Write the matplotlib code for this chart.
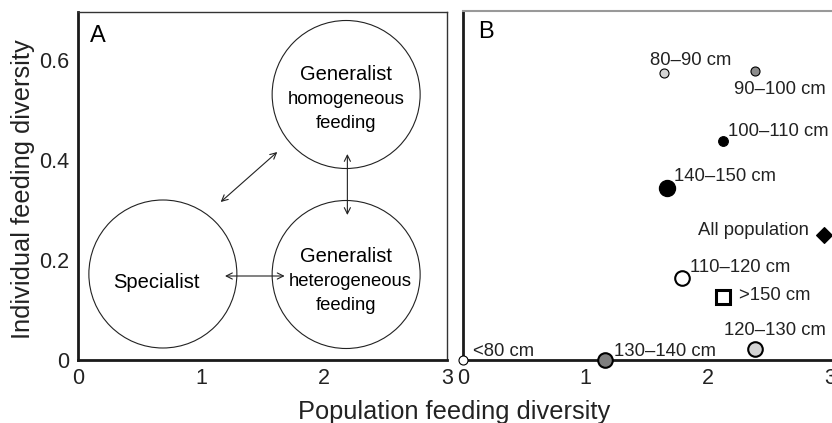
import matplotlib.pyplot as plt

plt.rcParams['font.family'] = ['Liberation Sans', 'DejaVu Sans']

# panel A: conceptual circles
circle_x = [0.69, 2.18, 2.18]
circle_y = [0.172, 0.531, 0.171]
arrows = [((1.16, 0.316), (1.62, 0.416)),
          ((2.19, 0.412), (2.19, 0.290)),
          ((1.195, 0.168), (1.68, 0.168))]

# panel B: size classes
classes = ['80–90 cm', '90–100 cm', '100–110 cm', '140–150 cm', 'All population',
           '110–120 cm', '>150 cm', '120–130 cm', '130–140 cm', '<80 cm']
pop_div = [1.64, 2.39, 2.13, 1.67, 2.95, 1.79, 2.13, 2.39, 1.16, 0.0]
ind_div = [0.572, 0.576, 0.436, 0.344, 0.25, 0.164, 0.126, 0.022, 0.0, 0.0]

xticks = [0, 1, 2, 3]
yticks = [0, 0.2, 0.4, 0.6]
ytick_labels = ['0', '0.2', '0.4', '0.6']

# marker styles for panel B (marker, size, face, edge width)
styles = [('o', 6.5, '#d4d4d4', 0.8), ('o', 6.5, '#8c8c8c', 0.8), ('o', 7, 'black', 0.8),
          ('o', 11.5, 'black', 1.0), ('D', 8, 'black', 0.8), ('o', 10.5, 'white', 1.5),
          ('s', 10, 'white', 2.2), ('o', 10.5, '#d4d4d4', 1.5), ('o', 10.5, '#7f7f7f', 1.5),
          ('o', 6.5, 'white', 0.8)]
# label offsets in pixels and alignment
offsets = [(27, 13, 'center'), (25, -18, 'center'), (5, 10, 'left'), (7, 11, 'left'),
           (-15, 4, 'right'), (8, 10, 'left'), (16, 1, 'left'), (20, 18, 'center'),
           (9, 9, 'left'), (10, 9, 'left')]

fig = plt.figure(figsize=(8.32, 4.23), dpi=100)
axA = fig.add_axes([78 / 832, 63 / 423, 369 / 832, 348 / 423])
axB = fig.add_axes([463 / 832, 63 / 423, 373 / 832, 349 / 423])

for ax in (axA, axB):
    ax.set_ylim(0, 0.696)
    ax.tick_params(length=0, labelsize=15.5, colors='#222222')
    ax.spines['left'].set_linewidth(2)
    ax.spines['bottom'].set_linewidth(2)
    ax.spines['left'].set_color('#1a1a1a')
    ax.spines['bottom'].set_color('#1a1a1a')

axA.set_xlim(0, 3)
axA.set_xticks(xticks)
axA.set_yticks(yticks)
axA.set_yticklabels(ytick_labels)
axA.tick_params(axis='x', pad=6)
axA.tick_params(axis='y', pad=6)
for s in ('top', 'right'):
    axA.spines[s].set_linewidth(1)
    axA.spines[s].set_color('#333333')

axA.scatter(circle_x, circle_y, s=148 * 0.72 * 148 * 0.72, facecolors='none',
            edgecolors='#222222', linewidths=0.8)
for start, end in arrows:
    axA.annotate('', xy=end, xytext=start,
                 arrowprops=dict(arrowstyle='<->', lw=0.8, color='#222222',
                                 shrinkA=0, shrinkB=0, mutation_scale=11))

axA.text(0.64, 0.156, 'Specialist', ha='center', va='center', fontsize=14.5)
axA.text(2.18, 0.570, 'Generalist', ha='center', va='center', fontsize=14.5)
axA.text(2.18, 0.520, 'homogeneous', ha='center', va='center', fontsize=13.3)
axA.text(2.18, 0.472, 'feeding', ha='center', va='center', fontsize=13.3)
axA.text(2.18, 0.208, 'Generalist', ha='center', va='center', fontsize=14.5)
axA.text(2.21, 0.156, 'heterogeneous', ha='center', va='center', fontsize=13.3)
axA.text(2.18, 0.110, 'feeding', ha='center', va='center', fontsize=13.3)
axA.text(0.033, 0.93, 'A', transform=axA.transAxes, ha='left', va='center', fontsize=17)

axB.set_xlim(0, 3.05)
axB.set_xticks(xticks)
axB.set_yticks([])
axB.tick_params(axis='x', pad=6)
axB.spines['right'].set_visible(False)
axB.spines['top'].set_color('#999999')
axB.spines['top'].set_linewidth(1.5)

for i, name in enumerate(classes):
    m, ms, fc, ew = styles[i]
    axB.plot(pop_div[i], ind_div[i], marker=m, ms=ms, mfc=fc, mec='black', mew=ew,
             linestyle='none', clip_on=False, zorder=5)
    dx, dy, ha = offsets[i]
    axB.annotate(name, (pop_div[i], ind_div[i]), xytext=(dx, dy), textcoords='offset pixels',
                 ha=ha, va='center', fontsize=13.3, color='#222222', annotation_clip=False)
axB.text(0.04, 0.94, 'B', transform=axB.transAxes, ha='left', va='center', fontsize=17)

fig.text(454 / 832, 11 / 423, 'Population feeding diversity', ha='center', va='center',
         fontsize=18.3, color='#222222')
fig.text(23 / 832, 234 / 423, 'Individual feeding diversity', ha='center', va='center',
         rotation=90, fontsize=18.3, color='#222222')

fig.savefig('out.png', dpi=100)
